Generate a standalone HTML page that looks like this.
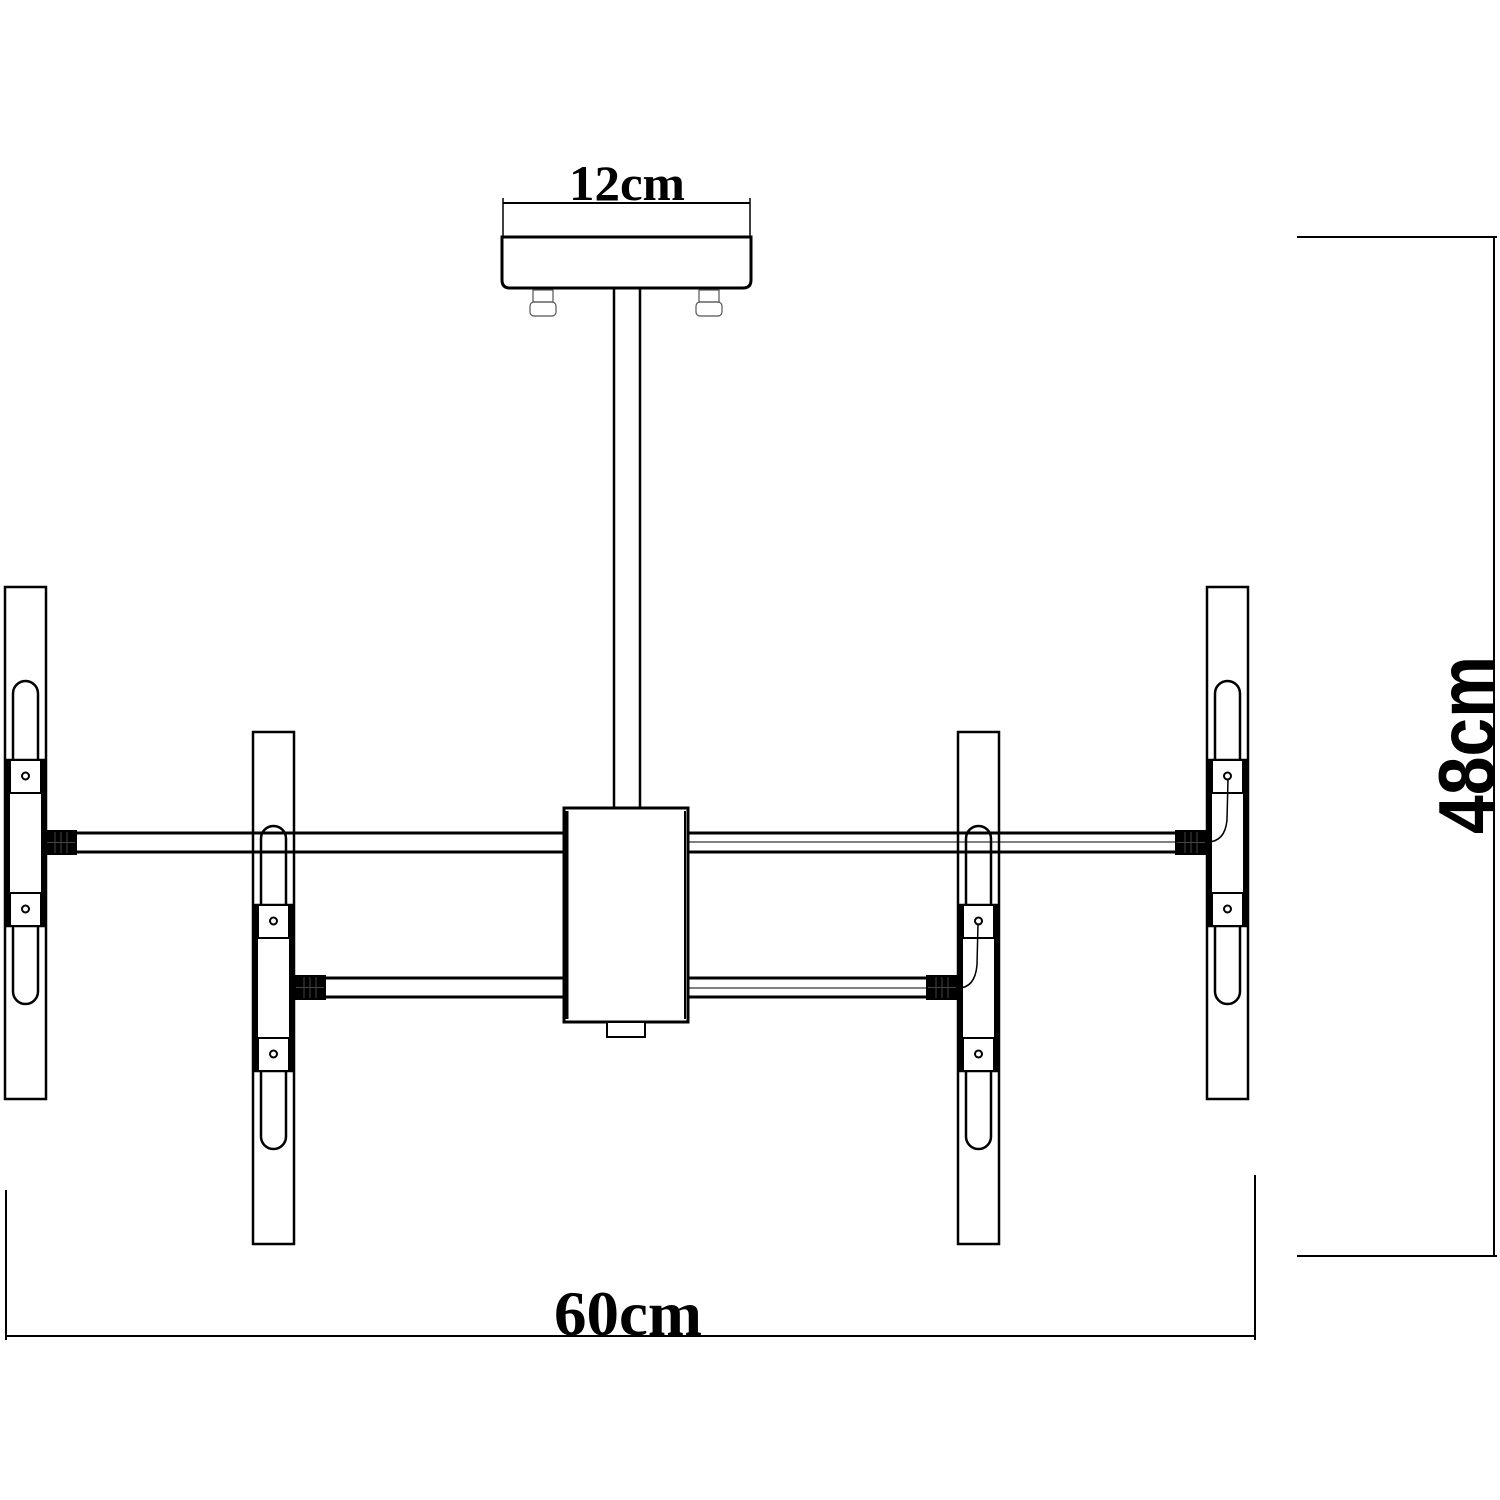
<!DOCTYPE html>
<html><head><meta charset="utf-8"><style>
html,body{margin:0;padding:0;background:#fff;width:1500px;height:1500px;overflow:hidden}
svg{display:block}
</style></head><body>
<svg width="1500" height="1500" viewBox="0 0 1500 1500" xmlns="http://www.w3.org/2000/svg">
<defs>
<symbol id="bar" overflow="visible">
  <rect x="0" y="0" width="41" height="512" fill="none" stroke="#000" stroke-width="2.5"/>
  <rect x="8" y="94" width="25" height="323" rx="12.5" fill="none" stroke="#000" stroke-width="2.5"/>
  <rect x="1" y="173" width="39" height="166" fill="#fff" stroke="#000" stroke-width="2.5"/>
  <line x1="2.5" y1="173" x2="2.5" y2="339" stroke="#000" stroke-width="5"/>
  <line x1="38.5" y1="173" x2="38.5" y2="339" stroke="#000" stroke-width="5"/>
  <rect x="5" y="173" width="31" height="33" fill="#fff" stroke="#000" stroke-width="2"/>
  <rect x="5" y="306" width="31" height="33" fill="#fff" stroke="#000" stroke-width="2"/>
  <circle cx="20.5" cy="189" r="3.5" fill="#fff" stroke="#000" stroke-width="2"/>
  <circle cx="20.5" cy="322" r="3.5" fill="#fff" stroke="#000" stroke-width="2"/>
</symbol>
<symbol id="knurl" overflow="visible">
  <rect x="0" y="0" width="32" height="25" fill="#000"/>
  <line x1="10" y1="2" x2="10" y2="23" stroke="#444" stroke-width="1"/>
  <line x1="16" y1="2" x2="16" y2="23" stroke="#444" stroke-width="1"/>
  <line x1="22" y1="2" x2="22" y2="23" stroke="#444" stroke-width="1"/>
  <line x1="2" y1="12.5" x2="30" y2="12.5" stroke="#444" stroke-width="1"/>
</symbol>
</defs>
<!-- lamp bars -->
<use href="#bar" x="5" y="587"/>
<use href="#bar" x="253" y="732"/>
<use href="#bar" x="958" y="732"/>
<use href="#bar" x="1207" y="587"/>
<g fill="none" stroke="#000">
<!-- top dimension -->
<line x1="503" y1="203" x2="750" y2="203" stroke-width="2"/>
<line x1="503" y1="198" x2="503" y2="237" stroke-width="1.5"/>
<line x1="750" y1="198" x2="750" y2="237" stroke-width="1.5"/>
<!-- canopy -->
<path d="M502,237 H751 V280 Q751,288 743,288 H510 Q502,288 502,280 Z" fill="#fff" stroke-width="3"/>
<!-- screws -->
<rect x="533" y="290" width="20" height="12" stroke-width="1.2" stroke="#555"/>
<rect x="530" y="302" width="26" height="14" rx="4" stroke-width="1.2" stroke="#555"/>
<rect x="699" y="290" width="20" height="12" stroke-width="1.2" stroke="#555"/>
<rect x="696" y="302" width="26" height="14" rx="4" stroke-width="1.2" stroke="#555"/>
<!-- stem -->
<line x1="614" y1="288" x2="614" y2="808" stroke-width="2.5"/>
<line x1="640" y1="288" x2="640" y2="808" stroke-width="2.5"/>
<!-- arms -->
<g stroke-width="3">
<line x1="45" y1="833" x2="564" y2="833"/><line x1="45" y1="852" x2="564" y2="852"/>
<line x1="688" y1="833" x2="1207" y2="833"/><line x1="688" y1="852" x2="1207" y2="852"/>
<line x1="294" y1="978" x2="564" y2="978"/><line x1="294" y1="997" x2="564" y2="997"/>
<line x1="688" y1="978" x2="958" y2="978"/><line x1="688" y1="997" x2="958" y2="997"/>
</g>
<line x1="688" y1="842" x2="1207" y2="842" stroke-width="1"/>
<line x1="688" y1="988" x2="958" y2="988" stroke-width="1"/>
<!-- center box -->
<rect x="564" y="808" width="124" height="214" fill="#fff" stroke-width="3"/>
<line x1="567" y1="811" x2="567" y2="1019" stroke-width="3"/>
<line x1="685" y1="811" x2="685" y2="1019" stroke-width="2"/>
<rect x="607" y="1022" width="38" height="15" fill="#fff" stroke-width="2"/>
</g>
<!-- connectors -->
<use href="#knurl" x="45" y="830"/>
<use href="#knurl" x="294" y="975"/>
<use href="#knurl" x="926" y="975"/>
<use href="#knurl" x="1175" y="830"/>
<g fill="none" stroke="#000" stroke-width="1.5">
<path d="M1207,842 Q1225,842 1227,820 L1228,779"/>
<path d="M958,988 Q975,988 977,965 L978,924"/>
</g>
<!-- dimensions -->
<g stroke="#000" stroke-width="2">
<line x1="6" y1="1190" x2="6" y2="1340"/>
<line x1="1255" y1="1175" x2="1255" y2="1340"/>
<line x1="6" y1="1336" x2="1255" y2="1336"/>
<line x1="1297" y1="237" x2="1497" y2="237"/>
<line x1="1297" y1="1256" x2="1497" y2="1256"/>
<line x1="1494" y1="237" x2="1494" y2="1256"/>
</g>
<text x="627" y="200" font-family="Liberation Serif, serif" font-weight="bold" font-size="50" text-anchor="middle" textLength="116" lengthAdjust="spacingAndGlyphs">12cm</text>
<text x="628" y="1335" font-family="Liberation Serif, serif" font-weight="bold" font-size="64" text-anchor="middle" textLength="148" lengthAdjust="spacingAndGlyphs">60cm</text>
<text transform="translate(1494,745) rotate(-90)" font-family="Liberation Sans, sans-serif" font-weight="bold" font-size="80" text-anchor="middle" textLength="178" lengthAdjust="spacingAndGlyphs">48cm</text>
</svg>
</body></html>
